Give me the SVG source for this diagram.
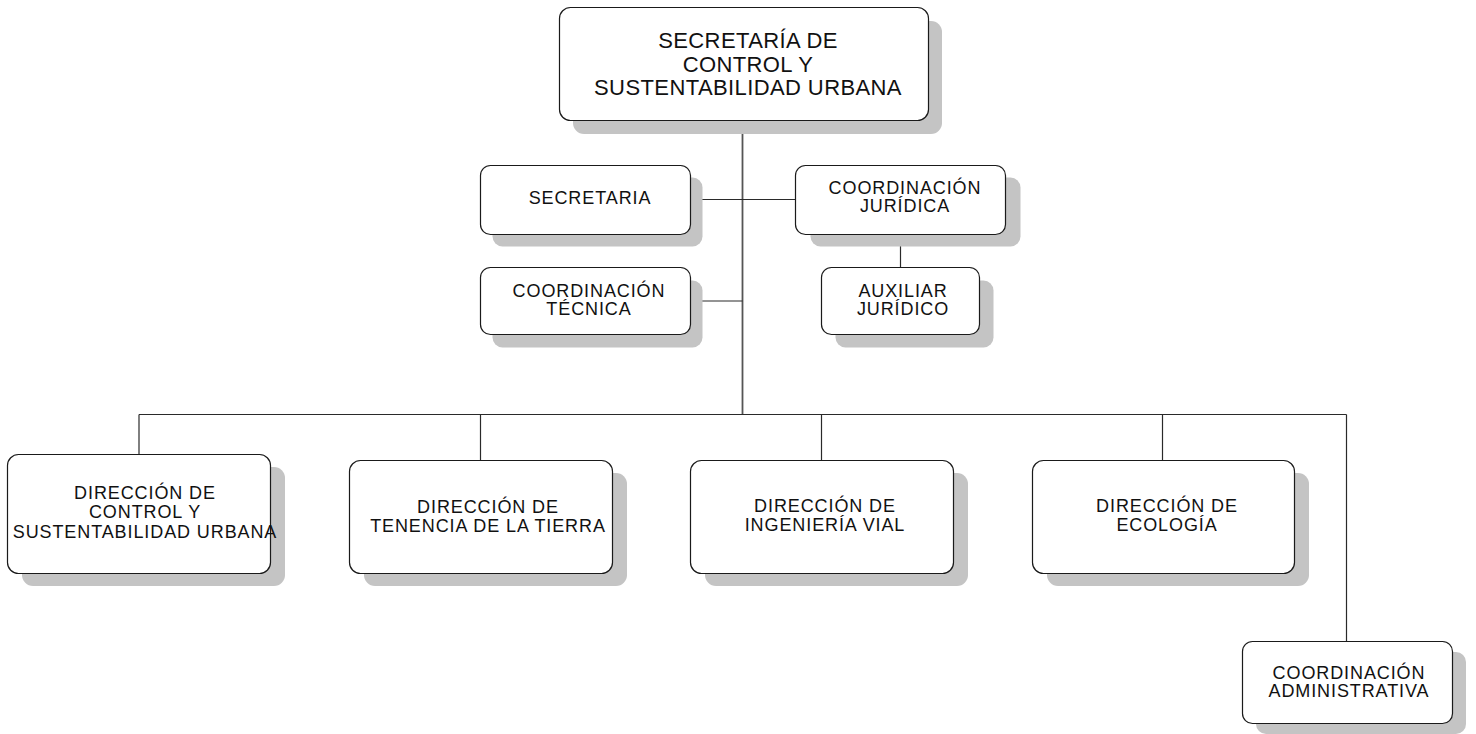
<svg xmlns="http://www.w3.org/2000/svg" width="1476" height="734" viewBox="0 0 1476 734">
<style>
.sh{fill:#c4c4c4;stroke:none}
.bx{fill:#fff;stroke:#1a1a1a;stroke-width:1.2}
.t{font-family:"Liberation Sans",Arial,sans-serif;font-size:18px;letter-spacing:0.9px;fill:#111;text-anchor:middle}
.tt{font-family:"Liberation Sans",Arial,sans-serif;font-size:22px;letter-spacing:0.4px;fill:#111;text-anchor:middle}
.c{stroke:#2a2a2a;stroke-width:1.2;fill:none}
</style>
<rect width="1476" height="734" fill="#fff"/>
<g id="connectors">
<line class="c" x1="742.5" y1="120" x2="742.5" y2="414.5" style="stroke:#555;stroke-width:1.8"/>
<line class="c" x1="690.5" y1="199.5" x2="795.5" y2="199.5"/>
<line class="c" x1="690.5" y1="301" x2="742.5" y2="301"/>
<line class="c" x1="900.5" y1="234.5" x2="900.5" y2="267.5"/>
<line class="c" x1="139" y1="414.5" x2="1346.5" y2="414.5"/>
<line class="c" x1="139" y1="414.5" x2="139" y2="454"/>
<line class="c" x1="480.5" y1="414.5" x2="480.5" y2="460"/>
<line class="c" x1="821.5" y1="414.5" x2="821.5" y2="460"/>
<line class="c" x1="1162.5" y1="414.5" x2="1162.5" y2="460"/>
<line class="c" x1="1346.5" y1="414.5" x2="1346.5" y2="641"/>
</g>
<g id="secretaria-control">
<rect class="sh" x="573" y="21" width="369" height="113" rx="11"/>
<rect class="bx" x="559.5" y="7.5" width="369" height="113" rx="11"/>
<text class="tt" x="748" y="48">SECRETARÍA DE</text>
<text class="tt" x="748" y="71.5">CONTROL Y</text>
<text class="tt" x="748" y="95">SUSTENTABILIDAD URBANA</text>
</g>
<g id="secretaria">
<rect class="sh" x="492.5" y="177.5" width="210" height="69" rx="10"/>
<rect class="bx" x="480.5" y="165.5" width="210" height="69" rx="10"/>
<text class="t" x="590" y="204">SECRETARIA</text>
</g>
<g id="coordinacion-juridica">
<rect class="sh" x="810.5" y="177.5" width="210" height="69" rx="10"/>
<rect class="bx" x="795.5" y="165.5" width="210" height="69" rx="10"/>
<text class="t" x="905" y="194">COORDINACIÓN</text>
<text class="t" x="905" y="212">JURÍDICA</text>
</g>
<g id="coordinacion-tecnica">
<rect class="sh" x="492.5" y="280.5" width="210" height="67" rx="10"/>
<rect class="bx" x="480.5" y="267.5" width="210" height="67" rx="10"/>
<text class="t" x="589" y="297">COORDINACIÓN</text>
<text class="t" x="589" y="315">TÉCNICA</text>
</g>
<g id="auxiliar-juridico">
<rect class="sh" x="835.5" y="280.5" width="158" height="67" rx="10"/>
<rect class="bx" x="821.5" y="267.5" width="158" height="67" rx="10"/>
<text class="t" x="903" y="296.5">AUXILIAR</text>
<text class="t" x="903" y="314.5">JURÍDICO</text>
</g>
<g id="direccion-control">
<rect class="sh" x="22" y="467" width="263" height="119" rx="11"/>
<rect class="bx" x="7.5" y="454.5" width="263" height="119" rx="11"/>
<text class="t" x="145" y="499">DIRECCIÓN DE</text>
<text class="t" x="145" y="518">CONTROL Y</text>
<text class="t" x="145" y="538">SUSTENTABILIDAD URBANA</text>
</g>
<g id="direccion-tenencia">
<rect class="sh" x="364" y="473" width="263" height="113" rx="11"/>
<rect class="bx" x="349.5" y="460.5" width="263" height="113" rx="11"/>
<text class="t" x="488" y="512.5">DIRECCIÓN DE</text>
<text class="t" x="488" y="531.5">TENENCIA DE LA TIERRA</text>
</g>
<g id="direccion-ingenieria">
<rect class="sh" x="705" y="473" width="263" height="113" rx="11"/>
<rect class="bx" x="690.5" y="460.5" width="263" height="113" rx="11"/>
<text class="t" x="825" y="511.5">DIRECCIÓN DE</text>
<text class="t" x="825" y="531">INGENIERÍA VIAL</text>
</g>
<g id="direccion-ecologia">
<rect class="sh" x="1047" y="473" width="262" height="113" rx="11"/>
<rect class="bx" x="1032.5" y="460.5" width="262" height="113" rx="11"/>
<text class="t" x="1167" y="512">DIRECCIÓN DE</text>
<text class="t" x="1167" y="531">ECOLOGÍA</text>
</g>
<g id="coordinacion-administrativa">
<rect class="sh" x="1256" y="652" width="210" height="82" rx="10"/>
<rect class="bx" x="1242.5" y="641.5" width="210" height="82" rx="10"/>
<text class="t" x="1349" y="679">COORDINACIÓN</text>
<text class="t" x="1349" y="697">ADMINISTRATIVA</text>
</g>
</svg>
